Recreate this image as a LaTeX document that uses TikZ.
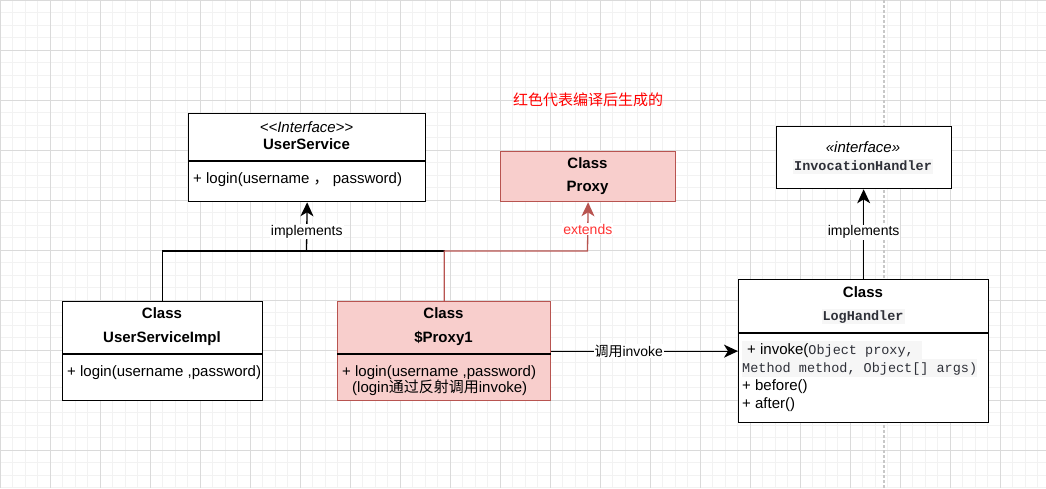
\documentclass[tikz,border=0pt]{standalone}
\usepackage{fontspec}
\setmainfont{Liberation Sans}
\setmonofont{Liberation Mono}
\newfontfamily\cjk{Noto Sans CJK SC}
\usetikzlibrary{arrows.meta}
\definecolor{redfill}{HTML}{F8CECC}
\definecolor{redline}{HTML}{B85450}
\definecolor{redtext}{HTML}{FF3333}
\definecolor{headred}{HTML}{FF0000}
\definecolor{codebg}{HTML}{F6F6F6}
\definecolor{codetext}{HTML}{2E3038}
\definecolor{minorgrid}{HTML}{F2F2F2}
\definecolor{majorgrid}{HTML}{DADADA}
\definecolor{dashgray}{HTML}{C8C8C8}
\newcommand\mycodefont{\fontsize{13.5}{16}\selectfont\ttfamily\color{codetext}}
\begin{document}
\begin{tikzpicture}[x=1pt,y=-1pt,
  classbox/.style={draw=black, line width=1.3pt, fill=white, inner sep=0pt, anchor=north west},
  redbox/.style={classbox, draw=redline, fill=redfill},
  txt/.style={inner sep=0pt, anchor=base, font=\fontsize{15}{18}\selectfont},
  btxt/.style={txt, font=\fontsize{15}{18}\selectfont\bfseries},
  itxt/.style={txt, font=\fontsize{15}{18}\selectfont\itshape},
  ltxt/.style={txt, anchor=base west},
  codename/.style={txt, font=\fontsize{13.5}{16}\selectfont\ttfamily\bfseries, text=codetext, fill=codebg, inner xsep=1pt, inner ysep=0pt, text height=11.5pt, text depth=3.5pt},
  codeline/.style={ltxt, fill=codebg, inner sep=0pt, text height=13pt, text depth=5pt},
  sep/.style={line width=1.3pt, draw=black},
  conn/.style={line width=1.3pt},
  edge/.style={conn, -{Stealth[length=14pt,width=13pt,inset=4pt]}},
  lbl/.style={fill=white, inner sep=1pt, font=\fontsize{14}{16}\selectfont},
]
\useasboundingbox (0,0) rectangle (1046,488);
\fill[white] (0,0) rectangle (1046,488);
% grid
\foreach \x in {0,12.5,...,1050} \draw[minorgrid, line width=1pt] (\x,0) -- (\x,488);
\foreach \y in {0,12.5,...,490} \draw[minorgrid, line width=1pt] (0,\y) -- (1046,\y);
\foreach \x in {0,50,...,1050} \draw[majorgrid, line width=1pt] (\x,0) -- (\x,488);
\foreach \y in {0,50,...,490} \draw[majorgrid, line width=1pt] (0,\y) -- (1046,\y);
\draw[dashgray, line width=1.5pt, dash pattern=on 3pt off 2pt] (884,0) -- (884,488);

% header text
\node[txt, text=headred] (note) at (588,105) {\cjk 红色代表编译后生成的};

% UserService
\node[classbox, minimum width=237pt, minimum height=88pt] (us) at (188,113) {};
\draw[sep] ([yshift=-48pt]us.north west) -- ([yshift=-48pt]us.north east);
\node[itxt] (usst) at (306.5,132) {<{}<Interface>{}>};
\node[btxt] (usname) at (306.5,149) {UserService};
\node[ltxt] (usm) at (193,183) {+ login(username {\cjk ，} password)};

% Proxy
\node[redbox, minimum width=175pt, minimum height=50pt] (proxy) at (500,151) {};
\node[btxt] (proxyc) at (587.5,168) {Class};
\node[btxt] (proxyn) at (587.5,191) {Proxy};

% InvocationHandler
\node[classbox, minimum width=175pt, minimum height=62pt] (ih) at (775.5,126) {};
\node[itxt] (ihst) at (863,152) {«interface»};
\node[codename] (ihname) at (863,170) {InvocationHandler};

% UserServiceImpl
\node[classbox, minimum width=200pt, minimum height=99pt] (usi) at (62,301) {};
\draw[sep] ([yshift=-53pt]usi.north west) -- ([yshift=-53pt]usi.north east);
\node[btxt] (usic) at (162,318) {Class};
\node[btxt] (usin) at (162,342) {UserServiceImpl};
\node[ltxt] (usim) at (67,376) {+ login(username ,password)};

% $Proxy1
\node[redbox, minimum width=213pt, minimum height=99pt] (p1) at (337,301) {};
\draw[sep] ([yshift=-53pt]p1.north west) -- ([yshift=-53pt]p1.north east);
\node[btxt] (p1c) at (443.5,318) {Class};
\node[btxt] (p1n) at (443.5,342) {\$Proxy1};
\node[ltxt] (p1m) at (342,376) {+ login(username ,password)};
\node[ltxt] (p1m2) at (352,392) {(login{\cjk 通过反射调用}invoke)};

% LogHandler
\node[classbox, minimum width=250pt, minimum height=143pt] (lh) at (738,279) {};
\draw[sep] ([yshift=-54pt]lh.north west) -- ([yshift=-54pt]lh.north east);
\node[btxt] (lhc) at (863,297) {Class};
\node[codename] (lhn) at (863,320) {LogHandler};
\node[codeline] (lhm1) at (742,354) {\hspace{5pt}+ invoke({\mycodefont Object proxy, }};
\node[codeline] (lhm2) at (742,372) {{\mycodefont Method method, Object[] args)}};
\node[ltxt] (lhm3) at (742,390) {+ before()};
\node[ltxt] (lhm4) at (742,408) {+ after()};

% connectors
\coordinate (j1) at (306.5,251);
\coordinate (j2) at (587.5,251);
\draw[conn] (usi.north) |- (j1);
\draw[conn] (p1.north) |- (j1);
\draw[edge] (j1) -- node[lbl, pos=0.4] {implements} (us.south);
\draw[edge, redline] (p1.north) |- (j2) -- node[lbl, text=redtext, pos=0.45] {extends} (proxy.south);
\draw[edge] (lh.north) -- node[lbl, pos=0.52] {implements} (ih.south);
\draw[edge] (p1.east) -- node[lbl, pos=0.415] {{\cjk 调用}invoke} (lh.west);
\end{tikzpicture}
\end{document}
